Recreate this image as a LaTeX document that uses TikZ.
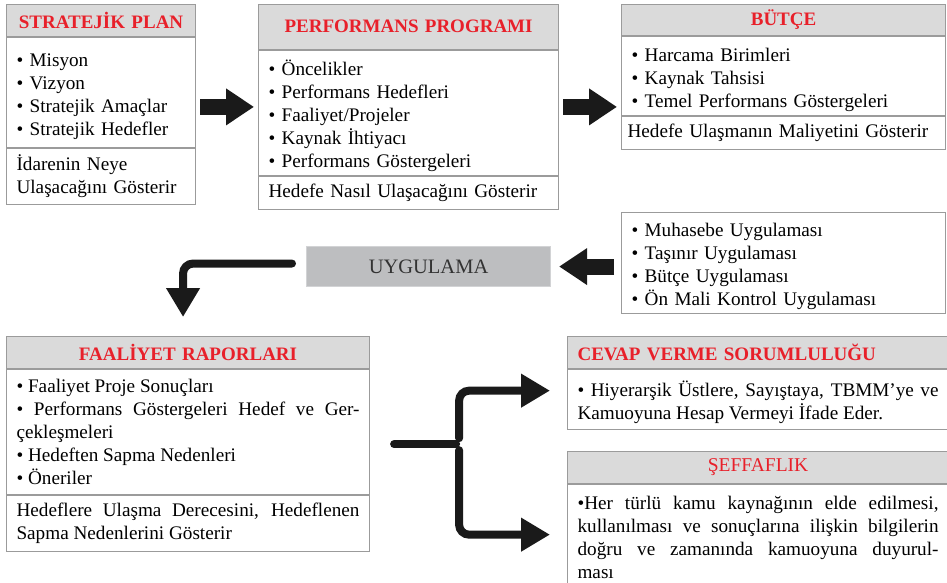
\documentclass[tikz,border=0pt]{standalone}
\usepackage{fontspec}
\setmainfont{Liberation Serif}
\usetikzlibrary{arrows.meta,positioning,calc}
\definecolor{titlered}{HTML}{E8202A}
\definecolor{headgray}{HTML}{DADADA}
\definecolor{linegray}{HTML}{9B9B9B}
\definecolor{uyggray}{HTML}{BDBEC0}
\definecolor{uygline}{HTML}{D2D3D5}
\definecolor{uygtext}{HTML}{333333}
\definecolor{arrowblack}{HTML}{1A1A1A}

\begin{document}
\begin{tikzpicture}[x=1pt,y=1pt,node distance=0pt,
  every node/.style={font=\fontsize{19.2}{23}\selectfont},
  head node/.style={draw=linegray,line width=1.1pt,fill=headgray,text=titlered,
    font=\fontsize{19}{23}\selectfont\bfseries,inner xsep=10pt,inner ysep=0pt,
    minimum height=32pt,align=center},
  body node/.style={draw=linegray,line width=1.1pt,fill=white,inner xsep=10pt,
    inner ysep=0pt,align=left},
  list node/.style={body node,text height=21pt},
  fat arrow/.style={draw=arrowblack,line width=16pt,-{Triangle[length=28pt,width=35pt]}},
  bar line/.style={draw=arrowblack,line width=8pt,line cap=round},
  bent arrow/.style={bar line,rounded corners=10pt,-{Triangle[length=29pt,width=32pt]}}]
  \useasboundingbox (0,0) rectangle (947,-582);

  % top row
  \node[head node,text width=169pt,anchor=north west,minimum height=32.5pt] (plan-h) at (6,-3.5) {STRATEJİK PLAN};
  \node[list node,text width=169pt,minimum height=110pt,below=of plan-h] (plan-b)
    {• Misyon\\• Vizyon\\• Stratejik Amaçlar\\• Stratejik Hedefler};
  \node[body node,text width=169pt,minimum height=55.5pt,below=of plan-b] (plan-f)
    {İdarenin Neye\\Ulaşacağını Gösterir};

  \node[head node,text width=280pt,anchor=north west,minimum height=45pt] (prog-h) at (258,-3.5) {PERFORMANS PROGRAMI};
  \node[list node,text width=280pt,minimum height=125.5pt,below=of prog-h] (prog-b)
    {• Öncelikler\\• Performans Hedefleri\\• Faaliyet/Projeler\\• Kaynak İhtiyacı\\• Performans Göstergeleri};
  \node[body node,text width=280pt,minimum height=33pt,below=of prog-b] (prog-f)
    {Hedefe Nasıl Ulaşacağını Gösterir};

  \node[head node,text width=304pt,anchor=north west,minimum height=31.5pt] (butce-h) at (621,-3.5) {BÜTÇE};
  \node[list node,text width=304pt,minimum height=79pt,below=of butce-h] (butce-b)
    {• Harcama Birimleri\\• Kaynak Tahsisi\\• Temel Performans Göstergeleri};
  \node[body node,text width=312pt,inner xsep=6pt,minimum height=33pt,below=of butce-b] (butce-f)
    {Hedefe Ulaşmanın Maliyetini Gösterir};

  % middle row
  \node[list node,text width=304pt,minimum height=101pt,anchor=north west] (uyglist) at (621,-212)
    {• Muhasebe Uygulaması\\• Taşınır Uygulaması\\• Bütçe Uygulaması\\• Ön Mali Kontrol Uygulaması};
  \node[draw=uygline,line width=1.1pt,fill=uyggray,text=uygtext,font=\fontsize{20.5}{24}\selectfont,
    minimum width=244pt,minimum height=40pt,anchor=north west] (uyg) at (306,-246) {UYGULAMA};

  % bottom row
  \node[head node,text width=343pt,anchor=north west] (faal-h) at (6,-336) {FAALİYET RAPORLARI};
  \node[body node,text width=343pt,minimum height=125pt,align=justify,below=of faal-h] (faal-b)
    {• Faaliyet Proje Sonuçları\\• Performans Göstergeleri Hedef ve Ger-\linebreak çekleşmeleri\\• Hedeften Sapma Nedenleri\\• Öneriler};
  \node[body node,text width=343pt,minimum height=56pt,align=justify,below=of faal-b] (faal-f)
    {Hedeflere Ulaşma Derecesini, Hedeflenen\linebreak Sapma Nedenlerini Gösterir};

  \node[head node,text width=361pt,align=left,anchor=north west] (cevap-h) at (567,-336) {CEVAP VERME SORUMLULUĞU};
  \node[list node,text width=361pt,minimum height=60pt,align=justify,below=of cevap-h] (cevap-b)
    {• Hiyerarşik Üstlere, Sayıştaya, TBMM’ye ve\linebreak Kamuoyuna Hesap Vermeyi İfade Eder.};

  \node[head node,text width=361pt,font=\fontsize{19.5}{23}\selectfont,anchor=north west] (seffaf-h) at (567,-451) {ŞEFFAFLIK};
  \node[body node,text width=361pt,minimum height=106pt,align=justify,below=of seffaf-h] (seffaf-b)
    {•Her türlü kamu kaynağının elde edilmesi,\linebreak kullanılması ve sonuçlarına ilişkin bilgilerin\linebreak doğru ve zamanında kamuoyuna duyurul-\linebreak ması};

  % arrows
  \coordinate (m1) at ($(prog-h.north)!.5!(prog-f.south)$);
  \coordinate (m2) at ($(faal-h.north east)!.5!(faal-f.south east)$);
  \draw[fat arrow] ([xshift=4pt]plan-b.east |- m1) -- ([xshift=-4pt]prog-b.west |- m1);
  \draw[fat arrow] ([xshift=4pt]prog-b.east |- m1) -- ([xshift=-4pt]butce-b.west |- m1);
  \draw[fat arrow] ([xshift=-7pt]uyglist.west |- uyg.east) -- ([xshift=8pt]uyg.east);
  \draw[bent arrow] ([xshift=-14pt,yshift=3pt]uyg.west) -| ([xshift=-5pt,yshift=19pt]faal-h.north);
  \draw[bar line] ([xshift=24pt]m2) -- ([xshift=86pt]m2);
  \draw[bent arrow] ([xshift=89pt,yshift=6pt]m2) |- ([xshift=-17pt,yshift=9pt]cevap-b.west);
  \draw[bent arrow] ([xshift=89pt,yshift=-6pt]m2) |- ([xshift=-17pt,yshift=3pt]seffaf-b.west);
\end{tikzpicture}
\end{document}
